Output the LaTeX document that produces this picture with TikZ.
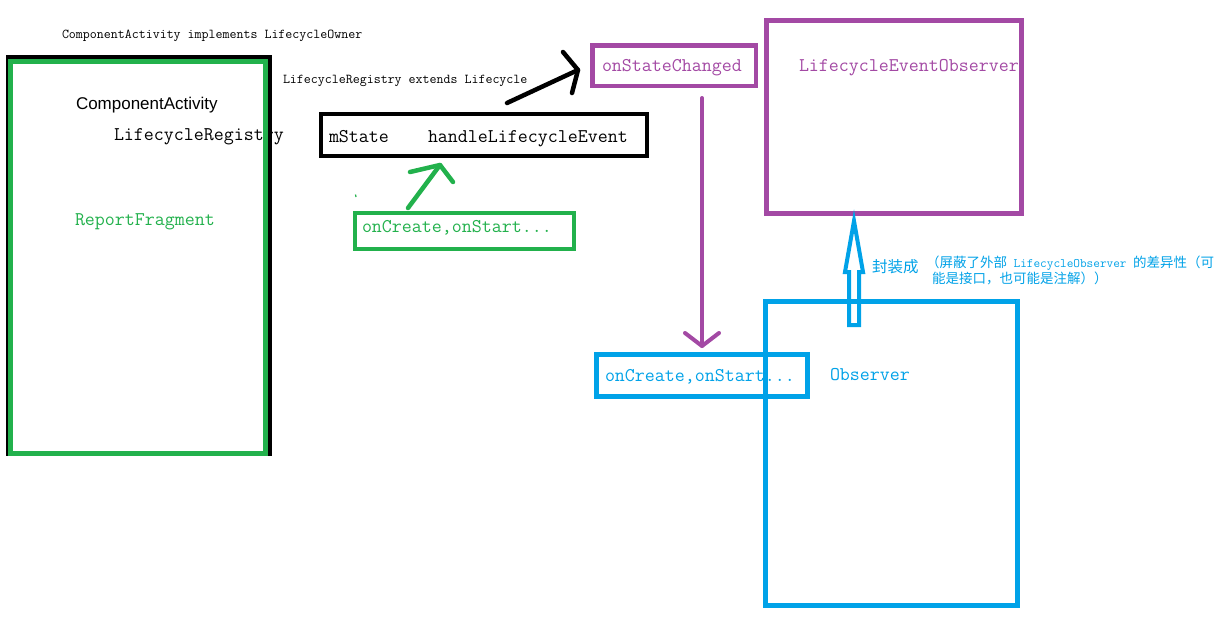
\documentclass[tikz,border=0pt]{standalone}
\usepackage{fontspec}
\newcommand\monof{\ttfamily}
\newfontfamily\sansf{Liberation Sans}
\newfontfamily\cjkf{Noto Sans CJK SC}
\definecolor{pgreen}{HTML}{22B14C}
\definecolor{ppurple}{HTML}{A349A4}
\definecolor{pblue}{HTML}{00A2E8}
\tikzset{
  txt/.style={inner sep=0pt, outer sep=0pt, anchor=base west},
  small/.style={txt, font=\monof\fontsize{13.56}{16}\selectfont},
  big/.style={txt, font=\monof\fontsize{19.4}{22}\selectfont},
  frame/.style={draw, rectangle, inner sep=0pt, outer sep=0pt, fill=none},
  arrowline/.style={line cap=round, line join=round},
}
\begin{document}
\begin{tikzpicture}[x=1pt,y=-1pt]
\useasboundingbox (0,0) rectangle (1224,630);
\fill[white] (0,0) rectangle (1224,630);

% texts
\node[small] (t1) at (62,38) {ComponentActivity implements LifecycleOwner};
\node[small] (t2) at (283,83) {LifecycleRegistry extends Lifecycle};
\node[txt, font=\sansf\fontsize{17}{20}\selectfont] (t3) at (76,109) {ComponentActivity};
\node[big] (t4) at (114,140) {LifecycleRegistry};
\node[big, text=pgreen] (t5) at (75,225) {ReportFragment};
\node[big] (t6) at (329,142) {mState};
\node[big] (t7) at (428,142) {handleLifecycleEvent};
\node[big, text=pgreen] (t8) at (362,232) {onCreate,onStart...};
\node[big, text=ppurple] (t9) at (602,71) {onStateChanged};
\node[big, text=ppurple] (t10) at (799,71) {LifecycleEventObserver};
\node[big, text=pblue] (t11) at (605,381) {onCreate,onStart...};
\node[big, text=pblue] (t12) at (830,380) {Observer};
\node[txt, text=pblue, font=\cjkf\fontsize{15.5}{18}\selectfont] (t13) at (872,272) {封装成};
\node[txt, text=pblue, font=\cjkf\fontsize{13.5}{16}\selectfont] (t14) at (926,267)
  {（屏蔽了外部{\monof\fontsize{12.9}{15}\selectfont\ LifecycleObserver\ }的差异性（可};
\node[txt, text=pblue, font=\cjkf\fontsize{13.5}{16}\selectfont] (t15) at (932,283)
  {能是接口，也可能是注解））};

% boxes (center lines)
\node[frame, line width=4pt, minimum width=262.5pt, minimum height=397pt] (actblack) at (138.75,255.5) {};
\node[frame, draw=pgreen, line width=5pt, minimum width=255pt, minimum height=392pt] (actgreen) at (138,257.5) {};
\node[frame, line width=4pt, minimum width=326pt, minimum height=42pt] (reg) at (484,135) {};
\node[frame, draw=pgreen, line width=4pt, minimum width=219pt, minimum height=36pt] (gcreate) at (464.5,231) {};
\node[frame, draw=ppurple, line width=4.5pt, minimum width=163.5pt, minimum height=40.5pt] (osc) at (674,65.5) {};
\node[frame, draw=ppurple, line width=5pt, minimum width=255pt, minimum height=193pt] (leo) at (894,117) {};
\node[frame, draw=pblue, line width=5pt, minimum width=211pt, minimum height=42pt] (bcreate) at (702,375.5) {};
\node[frame, draw=pblue, line width=5pt, minimum width=252pt, minimum height=304pt] (obs) at (891.5,453.5) {};

% black arrow
\coordinate (ba0) at (507,103);
\coordinate (ba1) at (578,70);
\draw[arrowline, line width=4.5pt] (ba0) -- (ba1);
\draw[arrowline, line width=4.5pt] (563,52) -- (ba1) -- (572,93);

% green arrow
\coordinate (ga0) at (408,208);
\coordinate (ga1) at (440,165);
\draw[arrowline, draw=pgreen, line width=4.5pt] (ga0) -- (ga1);
\draw[arrowline, draw=pgreen, line width=4.5pt] (410,172) -- (ga1) -- (453,182);
\draw[draw=pgreen, line width=1.2pt] (355.5,194.5) -- (356,197);

% purple arrow
\coordinate (pa0) at (702,98);
\coordinate (pa1) at (702,346);
\draw[arrowline, draw=ppurple, line width=4pt] (pa0) -- (pa1);
\draw[arrowline, draw=ppurple, line width=4pt] (685,333) -- (pa1) -- (719,333);

% hollow blue arrow
\coordinate (ha) at (854,221);
\draw[draw=pblue, line width=4pt, line join=miter]
  (849,325) -- (849,272) -- (845,272) -- (ha) -- (863,272) -- (859,272) -- (859,325) -- cycle;
\end{tikzpicture}
\end{document}
